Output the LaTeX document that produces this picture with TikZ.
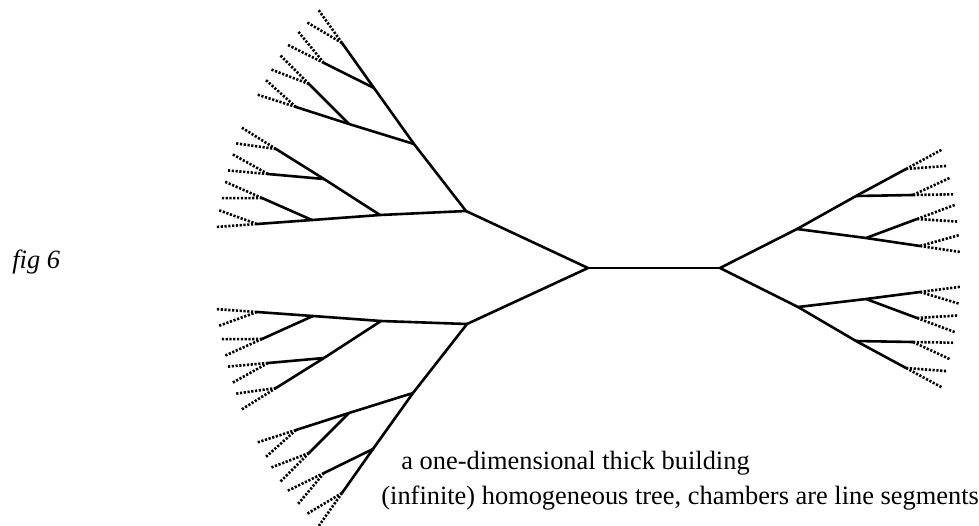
\documentclass[tikz,border=0pt]{standalone}
\usepackage{fontspec}
\setmainfont{Liberation Serif}
\usetikzlibrary{calc}

\begin{document}
\begin{tikzpicture}[x=0.5pt, y=-0.5pt,
    edge/.style={line width=1.3pt},
    fan/.style={line width=1.3pt, dash pattern=on 1.1pt off 0.8pt},
    every node/.style={font=\fontsize{13.2}{15}\selectfont, inner sep=0pt}]
    \useasboundingbox (0,0) rectangle (979,525);

    % Tree vertices
    \coordinate (cl) at (588,268);
    \coordinate (cr) at (720,268);
    % upper left
    \coordinate (lu) at (466,211);
    \coordinate (lua) at (414,144);     \coordinate (lub) at (380,215);
    \coordinate (luaa) at (374,88);     \coordinate (luab) at (349,124);
    \coordinate (luba) at (324,179);    \coordinate (lubb) at (312,220);
    \coordinate (luaa1) at (342,43);    \coordinate (luaa2) at (324,63);
    \coordinate (luab1) at (309,84);    \coordinate (luab2) at (296,107);
    \coordinate (luba1) at (276,149);   \coordinate (luba2) at (268,174);
    \coordinate (lubb1) at (262,198);   \coordinate (lubb2) at (257,224);
    % lower left
    \coordinate (ld) at (467,324);
    \coordinate (lda) at (413,393);     \coordinate (ldb) at (381,321);
    \coordinate (ldaa) at (373,449);    \coordinate (ldab) at (349,413);
    \coordinate (ldba) at (324,358);    \coordinate (ldbb) at (313,316);
    \coordinate (ldaa1) at (342,493);   \coordinate (ldaa2) at (324,473);
    \coordinate (ldab1) at (309,453);   \coordinate (ldab2) at (296,430);
    \coordinate (ldba1) at (276,388);   \coordinate (ldba2) at (268,363);
    \coordinate (ldbb1) at (262,339);   \coordinate (ldbb2) at (257,312);
    % right
    \coordinate (ru) at (797,229);      \coordinate (rd) at (798,307);
    \coordinate (rua) at (856,196);     \coordinate (rub) at (866,238);
    \coordinate (rda) at (856,341);     \coordinate (rdb) at (866,299);
    \coordinate (rua1) at (906,169);    \coordinate (rua2) at (913,195);
    \coordinate (rub1) at (917,219);    \coordinate (rub2) at (920,246);
    \coordinate (rda1) at (906,368);    \coordinate (rda2) at (913,342);
    \coordinate (rdb1) at (917,318);    \coordinate (rdb2) at (920,292);

    % Chambers - solid lines
    \draw[edge] (cl) -- (cr); \draw[edge] (cl) -- (lu); \draw[edge] (cl) -- (ld);
    \draw[edge] (cr) -- (ru); \draw[edge] (cr) -- (rd);

    \draw[edge] (lu) -- (lua); \draw[edge] (lu) -- (lub);
    \draw[edge] (lua) -- (luaa); \draw[edge] (lua) -- (luab); \draw[edge] (lub) -- (luba); \draw[edge] (lub) -- (lubb);
    \draw[edge] (luaa) -- (luaa1); \draw[edge] (luaa) -- (luaa2); \draw[edge] (luab) -- (luab1); \draw[edge] (luab) -- (luab2);
    \draw[edge] (luba) -- (luba1); \draw[edge] (luba) -- (luba2); \draw[edge] (lubb) -- (lubb1); \draw[edge] (lubb) -- (lubb2);

    \draw[edge] (ld) -- (lda); \draw[edge] (ld) -- (ldb);
    \draw[edge] (lda) -- (ldaa); \draw[edge] (lda) -- (ldab); \draw[edge] (ldb) -- (ldba); \draw[edge] (ldb) -- (ldbb);
    \draw[edge] (ldaa) -- (ldaa1); \draw[edge] (ldaa) -- (ldaa2); \draw[edge] (ldab) -- (ldab1); \draw[edge] (ldab) -- (ldab2);
    \draw[edge] (ldba) -- (ldba1); \draw[edge] (ldba) -- (ldba2); \draw[edge] (ldbb) -- (ldbb1); \draw[edge] (ldbb) -- (ldbb2);

    \draw[edge] (ru) -- (rua); \draw[edge] (ru) -- (rub); \draw[edge] (rd) -- (rda); \draw[edge] (rd) -- (rdb);
    \draw[edge] (rua) -- (rua1); \draw[edge] (rua) -- (rua2); \draw[edge] (rub) -- (rub1); \draw[edge] (rub) -- (rub2);
    \draw[edge] (rda) -- (rda1); \draw[edge] (rda) -- (rda2); \draw[edge] (rdb) -- (rdb1); \draw[edge] (rdb) -- (rdb2);

    % Dotted continuations at the leaves
    \foreach \l/\p/\a in {luaa1/luaa/24, luaa2/luaa/-24, luab1/luab/24, luab2/luab/-24,
        luba1/luba/24, luba2/luba/-24, lubb1/lubb/24, lubb2/lubb/-24,
        ldaa1/ldaa/-24, ldaa2/ldaa/24, ldab1/ldab/-24, ldab2/ldab/24,
        ldba1/ldba/-24, ldba2/ldba/24, ldbb1/ldbb/-24, ldbb2/ldbb/24,
        rua1/rua/-24, rua2/rua/24, rub1/rub/-24, rub2/rub/24,
        rda1/rda/24, rda2/rda/-24, rdb1/rdb/24, rdb2/rdb/-24}
        \draw[fan] (\l) -- ($(\l)!-20.5pt!(\p)$) (\l) -- ($(\l)!-20.5pt!\a:(\p)$);

    % Labels
    \node[anchor=base west] (fig) at (12,268) {\itshape fig 6};
    \node[anchor=base west] (cap1) at (401,469) {a one-dimensional thick building};
    \node[anchor=base west] (cap2) at (381,504) {(infinite) homogeneous tree, chambers are line segments};
\end{tikzpicture}
\end{document}
